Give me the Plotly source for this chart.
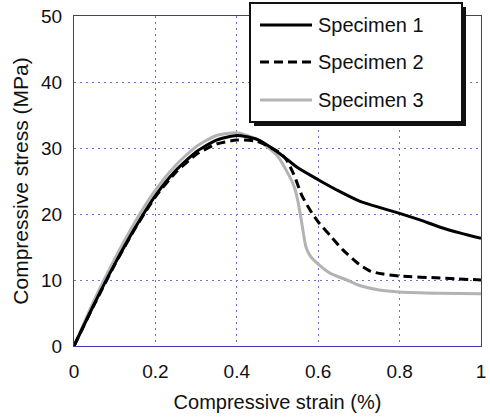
import plotly.graph_objects as go

# Stress-strain data for the three specimens
strain_1 = [0, 0.05, 0.1, 0.15, 0.2, 0.25, 0.3, 0.35, 0.4, 0.45, 0.5, 0.55, 0.6,
            0.65, 0.7, 0.75, 0.8, 0.85, 0.9, 0.95, 1.0]
stress_1 = [0, 6.4, 12.4, 17.9, 22.8, 26.6, 29.4, 31.2, 31.9, 31.3, 29.4, 27.0, 25.2,
            23.5, 22.0, 21.0, 20.1, 19.1, 18.0, 17.1, 16.3]

strain_2 = [0, 0.05, 0.1, 0.15, 0.2, 0.25, 0.3, 0.35, 0.4, 0.45, 0.5, 0.52, 0.54,
            0.56, 0.58, 0.6, 0.63, 0.66, 0.7, 0.73, 0.76, 0.8, 0.9, 1.0]
stress_2 = [0, 6.3, 12.3, 17.8, 22.6, 26.3, 29.0, 30.6, 31.2, 31.0, 29.5, 28.4, 26.0,
            22.8, 20.6, 18.8, 16.7, 14.6, 12.4, 11.3, 10.9, 10.6, 10.3, 10.0]

strain_3 = [0, 0.05, 0.1, 0.15, 0.2, 0.25, 0.3, 0.35, 0.4, 0.45, 0.5, 0.52, 0.54,
            0.55, 0.56, 0.57, 0.58, 0.6, 0.63, 0.67, 0.7, 0.75, 0.8, 0.9, 1.0]
stress_3 = [0, 7.0, 13.2, 18.8, 23.6, 27.4, 30.2, 31.9, 32.3, 31.3, 28.8, 26.8, 24.3,
            22.0, 18.5, 15.0, 13.7, 12.4, 11.0, 10.0, 9.2, 8.5, 8.2, 8.0, 7.9]

names = ["Specimen 1", "Specimen 2", "Specimen 3"]
x_ticks = [0, 0.2, 0.4, 0.6, 0.8, 1]
x_tick_text = ["0", "0.2", "0.4", "0.6", "0.8", "1"]
y_ticks = [0, 10, 20, 30, 40, 50]

W, H = 490, 418
ML, MR, MT, MB = 74, 9, 16, 72
PW, PH = W - ML - MR, H - MT - MB

FONT = "Liberation Sans, Arial, Helvetica, sans-serif"
AXIS_BLUE = "#3a3aa8"
GRID_BLUE = "#6f6fcc"

styles = [
    dict(color="#000000", width=3, dash="solid"),
    dict(color="#000000", width=3, dash="9px,5px"),
    dict(color="#b3b3b3", width=3, dash="solid"),
]

fig = go.Figure()
# grey drawn first so the black curves sit on top of it
order = [2, 1, 0]
data = [(strain_1, stress_1), (strain_2, stress_2), (strain_3, stress_3)]
for i in order:
    xs, ys = data[i]
    fig.add_trace(go.Scatter(x=xs, y=ys, mode="lines", name=names[i],
                             line=dict(shape="spline", smoothing=0.6, **styles[i]),
                             showlegend=False))


def px(x):
    return (x - ML) / PW


def py(y):
    return (H - MB - y) / PH


shapes = []
# legend box with drop shadow
bx0, bx1, by0, by1 = 250, 462, 3, 122
shapes.append(dict(type="rect", xref="paper", yref="paper",
                   x0=px(bx0 + 4), x1=px(bx1 + 4), y0=py(by1 + 4), y1=py(by0 + 4),
                   fillcolor="#111111", line=dict(width=0), layer="above"))
shapes.append(dict(type="rect", xref="paper", yref="paper",
                   x0=px(bx0), x1=px(bx1), y0=py(by1), y1=py(by0),
                   fillcolor="white", line=dict(color="#111111", width=2), layer="above"))
annotations = []
row_y = [25, 62, 100]
for i, ry in enumerate(row_y):
    st = styles[i]
    shapes.append(dict(type="line", xref="paper", yref="paper",
                       x0=px(260), x1=px(312), y0=py(ry), y1=py(ry),
                       line=dict(color=st["color"], width=st["width"], dash=st["dash"]),
                       layer="above"))
    annotations.append(dict(text=names[i], xref="paper", yref="paper",
                            x=px(316), y=py(ry), xanchor="left", yanchor="middle",
                            showarrow=False, font=dict(family=FONT, size=20, color="#111111")))

fig.update_layout(
    width=W, height=H,
    margin=dict(l=ML, r=MR, t=MT, b=MB, autoexpand=False),
    paper_bgcolor="white", plot_bgcolor="white",
    font=dict(family=FONT, size=19, color="#111111"),
    shapes=shapes, annotations=annotations,
)
fig.update_xaxes(
    range=[0, 1], tickvals=x_ticks, ticktext=x_tick_text, automargin=False,
    showline=True, linecolor=AXIS_BLUE, linewidth=1, mirror=True,
    showgrid=True, gridcolor=GRID_BLUE, griddash="2px,4px", gridwidth=1,
    zeroline=False, ticks="outside", ticklen=8, tickcolor="rgba(0,0,0,0)",
    title=dict(text="Compressive strain (%)", font=dict(size=20), standoff=14),
)
fig.update_yaxes(
    range=[0, 50], tickvals=y_ticks, automargin=False,
    showline=True, linecolor=AXIS_BLUE, linewidth=1, mirror=True,
    showgrid=True, gridcolor=GRID_BLUE, griddash="2px,4px", gridwidth=1,
    zeroline=False, ticks="outside", ticklen=7, tickcolor="rgba(0,0,0,0)",
    title=dict(text="Compressive stress (MPa)", font=dict(size=21), standoff=6),
)

fig.write_html("out.html")
